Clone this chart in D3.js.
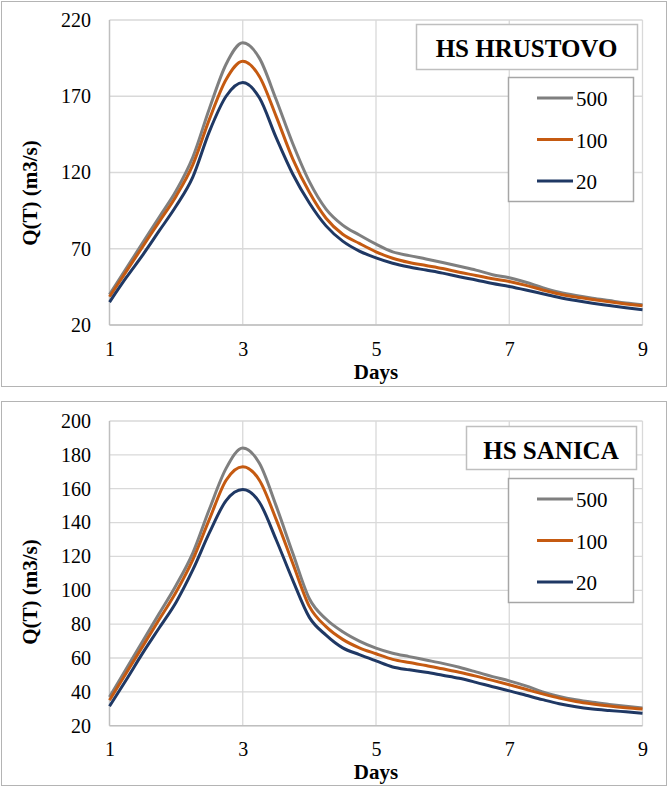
<!DOCTYPE html>
<html>
<head>
<meta charset="utf-8">
<script src="https://cdn.jsdelivr.net/npm/d3@7"></script>
<style>
  body { margin: 0; background: #fff; }
  svg text { font-family: "Liberation Serif", "Times New Roman", "DejaVu Serif", serif !important; fill: #000; }
</style>
</head>
<body>
<div id="chart"></div>
<script>
// days on the x axis, every quarter day
var days = [1, 1.25, 1.5, 1.75, 2, 2.25, 2.5, 2.75, 3, 3.25, 3.5, 3.75, 4, 4.25, 4.5, 4.75,
            5, 5.25, 5.5, 5.75, 6, 6.25, 6.5, 6.75, 7, 7.25, 7.5, 7.75, 8, 8.25, 8.5, 8.75, 9];

// HS HRUSTOVO, Q(T) for return periods 500, 100, 20
var hrustovo500 = [40, 57, 74, 91, 108, 130, 162, 191, 205, 195, 168, 139, 114, 96, 85.5, 79,
                   73, 68, 65.5, 63.3, 61, 58.5, 56, 53, 51, 48, 44.5, 41.5, 39.3, 37.5, 36, 34.5, 33.3];
var hrustovo100 = [38.5, 55, 71.5, 88, 104.5, 125, 155, 181, 193, 183, 157, 129, 107, 90, 79.5, 73.5,
                   68, 63.8, 61, 59, 57, 54.6, 52.5, 50.3, 48.5, 46, 43, 40.3, 38.3, 36.7, 35.2, 33.8, 32.6];
var hrustovo20  = [35, 51, 66, 82, 98, 117, 147, 170, 179, 169, 143, 119, 100, 85, 75, 68.5,
                   64, 60.5, 58, 56, 54, 51.6, 49.5, 47.2, 45.3, 43, 40.5, 38, 36, 34.3, 32.8, 31.3, 30];

// HS SANICA
var sanica500 = [37, 53.5, 70, 86.5, 103, 122, 148, 172, 184, 175, 150, 122, 95, 83, 75.5, 70,
                 65.8, 62.8, 60.8, 58.8, 56.8, 54.5, 51.8, 49, 46.5, 43.5, 40, 37.3, 35.3, 33.8, 32.6, 31.5, 30.5];
var sanica100 = [35, 51, 67, 83, 99, 118, 142, 165, 173, 165, 142, 116, 90.5, 78.5, 71, 66,
                 62.5, 59.2, 57.3, 55.6, 53.6, 51.6, 49.3, 46.8, 44.2, 41.5, 38.8, 36.3, 34.3, 32.8, 31.6, 30.6, 29.8];
var sanica20  = [31.5, 47, 63, 78, 93, 112, 134, 153, 159.5, 152, 130, 106, 84, 73.5, 66, 62,
                 58.3, 54.7, 53, 51.6, 49.8, 48, 45.6, 43, 40.6, 38, 35.4, 33, 31.2, 29.9, 29, 28.2, 27.4];

var seriesNames = ["500", "100", "20"];
var seriesColors = ["#7f7f7f", "#c55a11", "#1f3864"];

var xTicks = [1, 3, 5, 7, 9];
var hrustovoTicks = [20, 70, 120, 170, 220];
var sanicaTicks = [20, 40, 60, 80, 100, 120, 140, 160, 180, 200];

var W = 669, H = 787;
var FONT = "'Liberation Serif', 'Times New Roman', 'DejaVu Serif', serif";

var svg = d3.select("#chart").append("svg")
    .attr("width", W)
    .attr("height", H)
    .style("font-family", FONT);

svg.append("rect").attr("width", W).attr("height", H).attr("fill", "#fff");

function drawPanel(p) {
  var g = svg.append("g").attr("transform", "translate(0," + p.top + ")");

  // panel frame
  g.append("rect")
    .attr("x", 1.5).attr("y", 1.5)
    .attr("width", 665).attr("height", p.frameH)
    .attr("fill", "#fff")
    .attr("stroke", "#b4b4b4");

  var x = d3.scaleLinear().domain([1, 9]).range([109.5, 642.5]);
  var y = d3.scaleLinear().domain(p.yDomain).range([p.plotBottom, p.plotTop]);

  // grid
  g.append("g")
    .selectAll("line")
    .data(p.yTicks)
    .enter().append("line")
    .attr("x1", x(1)).attr("x2", x(9))
    .attr("y1", function(d) { return y(d); })
    .attr("y2", function(d) { return y(d); })
    .attr("stroke", "#d9d9d9").attr("stroke-width", 1.3);

  g.append("g")
    .selectAll("line")
    .data(xTicks.slice(1))
    .enter().append("line")
    .attr("x1", function(d) { return x(d); })
    .attr("x2", function(d) { return x(d); })
    .attr("y1", y(p.yDomain[0])).attr("y2", y(p.yDomain[1]))
    .attr("stroke", "#d9d9d9").attr("stroke-width", 1.3);

  // axis lines
  g.append("line")
    .attr("x1", x(1)).attr("x2", x(1))
    .attr("y1", y(p.yDomain[0])).attr("y2", y(p.yDomain[1]))
    .attr("stroke", "#bfbfbf").attr("stroke-width", 1.5);
  g.append("line")
    .attr("x1", x(1)).attr("x2", x(9))
    .attr("y1", y(p.yDomain[0])).attr("y2", y(p.yDomain[0]))
    .attr("stroke", "#bfbfbf").attr("stroke-width", 1.5);

  // tick labels
  var yAxis = d3.axisLeft(y).tickValues(p.yTicks).tickSize(0).tickPadding(0);
  var ya = g.append("g").attr("transform", "translate(91,0)").call(yAxis)
    .attr("font-family", FONT).attr("font-size", 20);
  ya.select(".domain").remove();
  ya.selectAll("text").style("font-family", FONT).attr("font-size", 20);

  var xAxis = d3.axisBottom(x).tickValues(xTicks).tickSize(0).tickPadding(0);
  var xa = g.append("g").attr("transform", "translate(0," + p.xLabelY + ")").call(xAxis)
    .attr("font-family", FONT).attr("font-size", 20);
  xa.select(".domain").remove();
  xa.selectAll("text").style("font-family", FONT).attr("font-size", 20).attr("dy", "0");

  // axis titles
  g.append("text")
    .attr("x", x(5)).attr("y", p.xLabelY + 23)
    .attr("text-anchor", "middle")
    .attr("font-size", 21).attr("font-weight", "bold")
    .style("font-family", FONT)
    .text("Days");

  g.append("text")
    .attr("transform", "translate(37," + p.yTitleY + ") rotate(-90)")
    .attr("text-anchor", "middle")
    .attr("font-size", 21).attr("font-weight", "bold")
    .style("font-family", FONT)
    .text("Q(T) (m3/s)");

  // lines
  var line = d3.line()
    .x(function(d) { return x(d[0]); })
    .y(function(d) { return y(d[1]); })
    .curve(d3.curveMonotoneX);

  p.series.forEach(function(vals, i) {
    g.append("path")
      .datum(days.map(function(d, j) { return [d, vals[j]]; }))
      .attr("fill", "none")
      .attr("stroke", seriesColors[i])
      .attr("stroke-width", 3)
      .attr("stroke-linejoin", "round")
      .attr("d", line);
  });

  // title box
  g.append("rect")
    .attr("x", p.titleBox[0] + 0.5).attr("y", p.titleBox[1] + 0.5)
    .attr("width", p.titleBox[2]).attr("height", p.titleBox[3])
    .attr("fill", "#fff").attr("stroke", "#bfbfbf").attr("stroke-width", 1.5);
  g.append("text")
    .attr("x", p.titleBox[0] + p.titleBox[2] / 2)
    .attr("y", p.titleBox[1] + 33)
    .attr("text-anchor", "middle")
    .attr("font-size", 25).attr("font-weight", "bold")
    .style("font-family", FONT)
    .text(p.title);

  // legend
  var lg = g.append("g").attr("transform", "translate(508," + p.legendTop + ")");
  lg.append("rect")
    .attr("x", 0.5).attr("y", 0.5)
    .attr("width", 125).attr("height", 124)
    .attr("fill", "#fff").attr("stroke", "#a6a6a6").attr("stroke-width", 1.5);
  seriesNames.forEach(function(name, i) {
    var cy = 21 + i * 41.5;
    lg.append("line")
      .attr("x1", 29).attr("x2", 65)
      .attr("y1", cy).attr("y2", cy)
      .attr("stroke", seriesColors[i]).attr("stroke-width", 3);
    lg.append("text")
      .attr("x", 68).attr("y", cy + 8)
      .attr("font-size", 21)
      .style("font-family", FONT)
      .text(name);
  });
}

drawPanel({
  top: 0,
  frameH: 385,
  yDomain: [20, 220],
  yTicks: hrustovoTicks,
  plotTop: 20,
  plotBottom: 325,
  xLabelY: 356,
  yTitleY: 193,
  title: "HS HRUSTOVO",
  titleBox: [416, 24, 221, 45],
  legendTop: 77,
  series: [hrustovo500, hrustovo100, hrustovo20]
});

drawPanel({
  top: 400,
  frameH: 384,
  yDomain: [20, 200],
  yTicks: sanicaTicks,
  plotTop: 21,
  plotBottom: 325.7,
  xLabelY: 356,
  yTitleY: 192,
  title: "HS SANICA",
  titleBox: [466, 26, 170, 43],
  legendTop: 78,
  series: [sanica500, sanica100, sanica20]
});
</script>
</body>
</html>
